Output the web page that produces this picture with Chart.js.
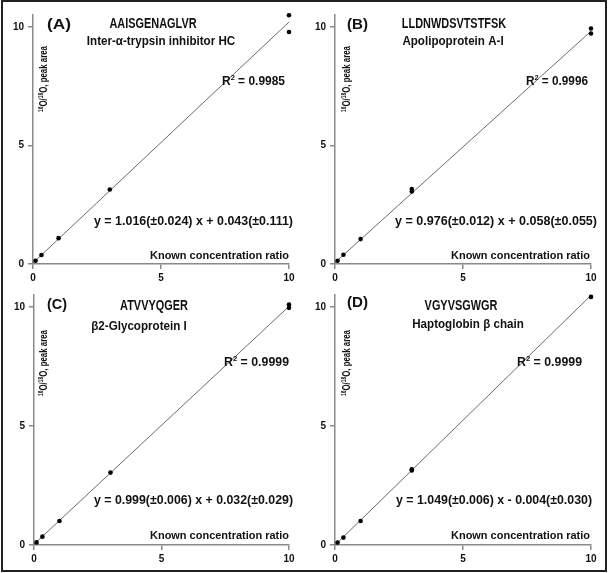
<!DOCTYPE html>
<html>
<head>
<meta charset="utf-8">
<script src="https://cdn.jsdelivr.net/npm/chart.js@4.4.1/dist/chart.umd.min.js"></script>
<style>
  body { margin: 0; background: #fff; }
  #wrap { position: relative; width: 608px; height: 573px; }
  #frame { position: absolute; left: 1px; top: 0px; width: 602px; height: 568px; border: 2px solid #222; }
  canvas { position: absolute; }
</style>
</head>
<body>
<div id="wrap">
  <div id="frame"></div>
  <canvas id="cA" width="304" height="283" style="left:0px;top:0px"></canvas>
  <canvas id="cB" width="304" height="283" style="left:304px;top:0px"></canvas>
  <canvas id="cC" width="304" height="290" style="left:0px;top:283px"></canvas>
  <canvas id="cD" width="304" height="290" style="left:304px;top:283px"></canvas>
</div>
<script>
// dados
var panelTags = ["(A)", "(B)", "(C)", "(D)"];
var peptides = ["AAISGENAGLVR", "LLDNWDSVTSTFSK", "ATVVYQGER", "VGYVSGWGR"];
var proteins = ["Inter-\u03B1-trypsin inhibitor HC", "Apolipoprotein A-I", "\u03B22-Glycoprotein I", "Haptoglobin \u03B2 chain"];
var rSquared = ["0.9985", "0.9996", "0.9999", "0.9999"];
var equations = [
    "y = 1.016(\u00B10.024) x + 0.043(\u00B10.111)",
    "y = 0.976(\u00B10.012) x + 0.058(\u00B10.055)",
    "y = 0.999(\u00B10.006) x + 0.032(\u00B10.029)",
    "y = 1.049(\u00B10.006) x - 0.004(\u00B10.030)"
];
var slopes = [1.016, 0.976, 0.999, 1.049];
var intercepts = [0.043, 0.058, 0.032, -0.004];

var knownA = [0.1, 0.33, 1, 3, 10, 10];
var measuredA = [0.14, 0.38, 1.09, 3.14, 10.49, 9.78];
var knownB = [0.1, 0.33, 1, 3, 3, 10, 10];
var measuredB = [0.14, 0.39, 1.05, 3.06, 3.16, 9.93, 9.72];
var knownC = [0.1, 0.33, 1, 3, 10, 10];
var measuredC = [0.11, 0.35, 1.01, 3.04, 10.1, 9.96];
var knownD = [0.1, 0.33, 1, 3, 3, 10];
var measuredD = [0.1, 0.31, 1.01, 3.13, 3.18, 10.42];

var xTicks = [0, 5, 10];
var yTicks = [0, 5, 10];
var xMax = 10;
var yMax = 10.5;

var FONT = '"Liberation Sans", Arial, sans-serif';

// geometria de cada painel (coordenadas do canvas)
var layouts = [
    { area: [33, 289, 15, 264], tag: [47, 25, 24], pep: [153, 24], prot: [161, 41], r2: [285, 82, 63], eq: [293, 221, 199], known: [289, 256, 139], ytitle: [44, 79, 66] },
    { area: [31, 287, 15, 264], tag: [43, 25, 21], pep: [150, 24], prot: [149, 41], r2: [284, 82, 62], eq: [293, 221, 202], known: [286, 256, 139], ytitle: [43, 79, 66] },
    { area: [34, 289, 12, 262], tag: [47, 22, 20], pep: [154, 23], prot: [139, 43], r2: [289, 80, 65], eq: [293, 217, 199], known: [289, 253, 139], ytitle: [44, 80, 66] },
    { area: [31, 287, 12, 262], tag: [43, 20, 21], pep: [157, 23], prot: [164, 41], r2: [278, 80, 65], eq: [288, 217, 196], known: [286, 253, 139], ytitle: [43, 80, 66] }
];

// desenha texto com partes (sobrescrito); fit = largura alvo ou {sx: fator}
function drawRich(ctx, parts, x, y, size, fit, align, rotate) {
    ctx.save();
    ctx.translate(x, y);
    if (rotate) ctx.rotate(-Math.PI / 2);
    var total = 0;
    var widths = [];
    for (var i = 0; i < parts.length; i++) {
        var sz = parts[i][1] ? size * 0.62 : size;
        ctx.font = "bold " + sz + "px " + FONT;
        var w = ctx.measureText(parts[i][0]).width;
        widths.push(w);
        total += w;
    }
    var sx = typeof fit === "number" ? fit / total : fit.sx;
    var width = total * sx;
    var start = align === "left" ? 0 : (align === "center" ? -width / 2 : -width);
    ctx.translate(start, 0);
    ctx.scale(sx, 1);
    ctx.fillStyle = "#111";
    ctx.textBaseline = "middle";
    ctx.textAlign = "left";
    var cx = 0;
    for (var j = 0; j < parts.length; j++) {
        var sup = parts[j][1];
        ctx.font = "bold " + (sup ? size * 0.62 : size) + "px " + FONT;
        ctx.fillText(parts[j][0], cx, sup ? -size * 0.3 : 0);
        cx += widths[j];
    }
    ctx.restore();
}

function makePlugin(i) {
    var L = layouts[i];
    return {
        id: "textos" + i,
        afterDraw: function (chart) {
            var ctx = chart.ctx;
            drawRich(ctx, [[panelTags[i], false]], L.tag[0], L.tag[1], 15.5, L.tag[2], "left");
            drawRich(ctx, [[peptides[i], false]], L.pep[0], L.pep[1], 14, { sx: 0.78 }, "center");
            drawRich(ctx, [[proteins[i], false]], L.prot[0], L.prot[1], 13.5, { sx: 0.86 }, "center");
            drawRich(ctx, [["R", false], ["2", true], [" = " + rSquared[i], false]], L.r2[0], L.r2[1], 12.5, L.r2[2], "right");
            drawRich(ctx, [[equations[i], false]], L.eq[0], L.eq[1], 13.5, L.eq[2], "right");
            drawRich(ctx, [["Known concentration ratio", false]], L.known[0], L.known[1], 11.5, L.known[2], "right");
            drawRich(ctx, [["16", true], ["O/", false], ["18", true], ["O, peak area", false]], L.ytitle[0], L.ytitle[1], 11.5, L.ytitle[2], "center", true);
        }
    };
}

function criarPainel(i, canvasId, known, measured) {
    var L = layouts[i];
    var canvas = document.getElementById(canvasId);
    var pontos = known.map(function (k, j) { return { x: k, y: measured[j] }; });
    var reta = [
        { x: 0, y: intercepts[i] },
        { x: xMax, y: slopes[i] * xMax + intercepts[i] }
    ];
    var tickFont = { family: FONT, size: 10, weight: "bold" };
    return new Chart(canvas, {
        type: "scatter",
        data: {
            datasets: [
                { data: pontos, pointRadius: 2.3, pointBackgroundColor: "#000", pointBorderColor: "#000", pointBorderWidth: 0, showLine: false, clip: false, order: 1 },
                { data: reta, showLine: true, pointRadius: 0, borderColor: "#6a6a6a", borderWidth: 1, clip: false, order: 2 }
            ]
        },
        options: {
            responsive: false,
            animation: false,
            devicePixelRatio: 1,
            layout: { padding: { left: 0, top: L.area[2], right: canvas.width - L.area[1], bottom: 0 } },
            plugins: { legend: { display: false }, tooltip: { enabled: false } },
            scales: {
                x: {
                    type: "linear", min: 0, max: xMax,
                    afterBuildTicks: function (s) { s.ticks = xTicks.map(function (v) { return { value: v }; }); },
                    afterFit: function (s) { s.height = canvas.height - L.area[3]; },
                    ticks: { font: tickFont, color: "#111", padding: 3, maxRotation: 0 },
                    grid: { drawOnChartArea: false, drawTicks: true, tickLength: 5, color: "#8a8a8a", lineWidth: 1.5 },
                    border: { display: true, color: "#8a8a8a", width: 1.5 }
                },
                y: {
                    type: "linear", min: 0, max: yMax,
                    afterBuildTicks: function (s) { s.ticks = yTicks.map(function (v) { return { value: v }; }); },
                    afterFit: function (s) { s.width = L.area[0]; },
                    ticks: { font: tickFont, color: "#111", padding: 4 },
                    grid: { drawOnChartArea: false, drawTicks: true, tickLength: 5, color: "#8a8a8a", lineWidth: 1.5 },
                    border: { display: true, color: "#8a8a8a", width: 1.5 }
                }
            }
        },
        plugins: [makePlugin(i)]
    });
}

document.addEventListener("DOMContentLoaded", function () {
    criarPainel(0, "cA", knownA, measuredA);
    criarPainel(1, "cB", knownB, measuredB);
    criarPainel(2, "cC", knownC, measuredC);
    criarPainel(3, "cD", knownD, measuredD);
});
</script>
</body>
</html>
